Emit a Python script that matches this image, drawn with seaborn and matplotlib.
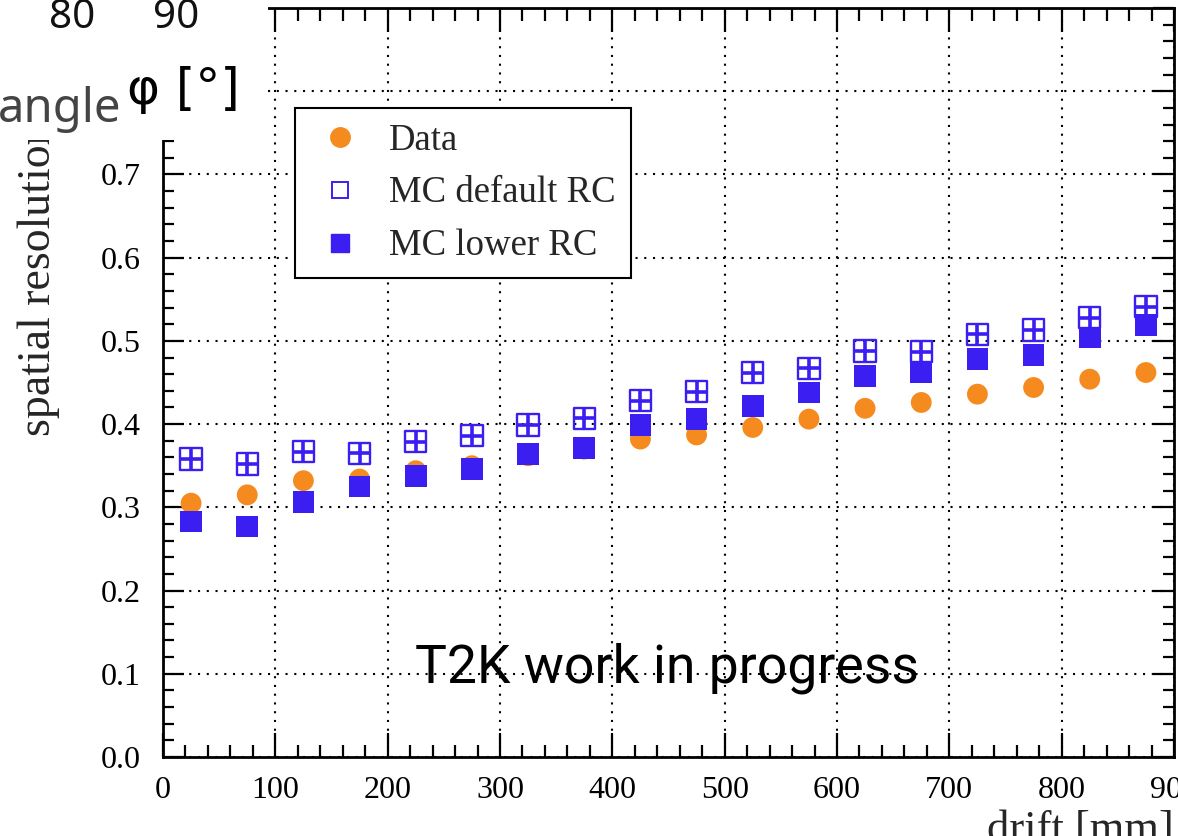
import numpy as np
import pandas as pd
import seaborn as sns
import matplotlib.pyplot as plt
from matplotlib.ticker import MultipleLocator
from matplotlib.patches import Rectangle
from matplotlib.lines import Line2D

# values
drift = [25, 75, 125, 175, 225, 275, 325, 375, 425, 475, 525, 575, 625, 675, 725, 775, 825, 875]
data_res = [0.305, 0.315, 0.332, 0.334, 0.344, 0.350, 0.362, 0.370, 0.382, 0.387,
            0.396, 0.406, 0.419, 0.426, 0.436, 0.444, 0.454, 0.462]
mc_default = [0.358, 0.352, 0.367, 0.365, 0.379, 0.386, 0.399, 0.407, 0.428, 0.439,
              0.462, 0.467, 0.488, 0.487, 0.508, 0.513, 0.528, 0.541]
mc_lower = [0.283, 0.277, 0.306, 0.325, 0.338, 0.346, 0.364, 0.371, 0.399, 0.406,
            0.422, 0.438, 0.458, 0.463, 0.478, 0.483, 0.504, 0.519]
series_names = ["Data", "MC default RC", "MC lower RC"]

orange = "#f58b1f"
blue = "#3a1ef2"

sns.set_style("ticks")
plt.rcParams["font.family"] = ["Liberation Serif", "DejaVu Serif"]

fig = plt.figure(figsize=(11.78, 8.36), dpi=100)
ax = fig.add_axes([163 / 1178, 1 - 757 / 836, 1011 / 1178, 749 / 836])

df = pd.DataFrame({"drift": drift, "data": data_res, "mc_def": mc_default, "mc_low": mc_lower})

sns.scatterplot(data=df, x="drift", y="data", ax=ax, marker="o", s=225,
                color=orange, edgecolor="none", zorder=3)
sns.scatterplot(data=df, x="drift", y="mc_def", ax=ax, marker="s", s=235,
                color=blue, facecolor="none", edgecolor=blue, linewidth=1.7, zorder=4)
sns.scatterplot(data=df, x="drift", y="mc_def", ax=ax, marker="+", s=230,
                color=blue, linewidth=2.6, zorder=4)
sns.scatterplot(data=df, x="drift", y="mc_low", ax=ax, marker="s", s=245,
                color=blue, edgecolor="none", zorder=5)

ax.set_xlim(0, 900)
ax.set_ylim(0, 0.9)
ax.xaxis.set_major_locator(MultipleLocator(100))
ax.xaxis.set_minor_locator(MultipleLocator(20))
ax.yaxis.set_major_locator(MultipleLocator(0.1))
ax.yaxis.set_minor_locator(MultipleLocator(0.02))
ax.yaxis.set_major_formatter(plt.FuncFormatter(lambda v, p: f"{v:.1f}"))

ax.grid(True, which="major", color="black", linestyle=(0, (1.0, 3.2)), linewidth=1.5, zorder=1)
ax.set_axisbelow(True)
for sp in ax.spines.values():
    sp.set_visible(True)
    sp.set_linewidth(2.0)
    sp.set_color("black")

ax.tick_params(axis="both", which="both", direction="in", top=True, right=True,
               colors="black", labelsize=23, width=1.6)
ax.tick_params(axis="x", which="major", length=17, pad=14)
ax.tick_params(axis="x", which="minor", length=9)
ax.tick_params(axis="y", which="major", length=15, pad=16)
ax.tick_params(axis="y", which="minor", length=8)

ax.set_xlabel("drift [mm]", fontsize=32, ha="right")
ax.xaxis.set_label_coords(1.0, -0.071)
ax.set_ylabel("spatial resolution [mm]", fontsize=33, ha="right")
ax.yaxis.set_label_coords(-0.102, 1.0)

handles = [
    Line2D([], [], marker="o", linestyle="none", color=orange, markersize=14),
    Line2D([], [], marker="s", linestyle="none", markerfacecolor="none",
           markeredgecolor=blue, markeredgewidth=1.4, markersize=12),
    Line2D([], [], marker="s", linestyle="none", color=blue, markersize=13),
]
leg = ax.legend(handles, series_names, loc="upper left", bbox_to_anchor=(0.131, 0.866),
                borderaxespad=0, fontsize=26.5, frameon=True, fancybox=False,
                handletextpad=0.55, labelspacing=0.5, borderpad=0.4, handlelength=1.6)
leg.get_frame().set_edgecolor("black")
leg.get_frame().set_linewidth(1.5)
leg.get_frame().set_alpha(1)
leg.set_zorder(10)

ax.text(0.249, 0.1, "T2K work in progress", transform=ax.transAxes, fontsize=38.5,
        family="Roboto", color="black", ha="left", va="baseline", zorder=8)

# white overlay patch in the top left corner with the cut-off slide labels
fig.add_artist(Rectangle((0, 1 - 140 / 836), 268 / 1178, 140 / 836, transform=fig.transFigure,
                         facecolor="white", edgecolor="none", zorder=20))
fig.text(72 / 1178, 1 - 28 / 836, "80", fontsize=29, family="Noto Sans", ha="center",
         va="baseline", color="#111111", zorder=21)
fig.text(176 / 1178, 1 - 28 / 836, "90", fontsize=29, family="Noto Sans", ha="center",
         va="baseline", color="#111111", zorder=21)
fig.text(-2 / 1178, 1 - 122 / 836, "angle", fontsize=34, family="Noto Sans", ha="left",
         va="baseline", color="#444444", zorder=21)
fig.text(127 / 1178, 1 - 104 / 836, "φ [°]", fontsize=36, family="DejaVu Sans", ha="left",
         va="baseline", color="black", zorder=21)

fig.savefig("out.png", dpi=100)
